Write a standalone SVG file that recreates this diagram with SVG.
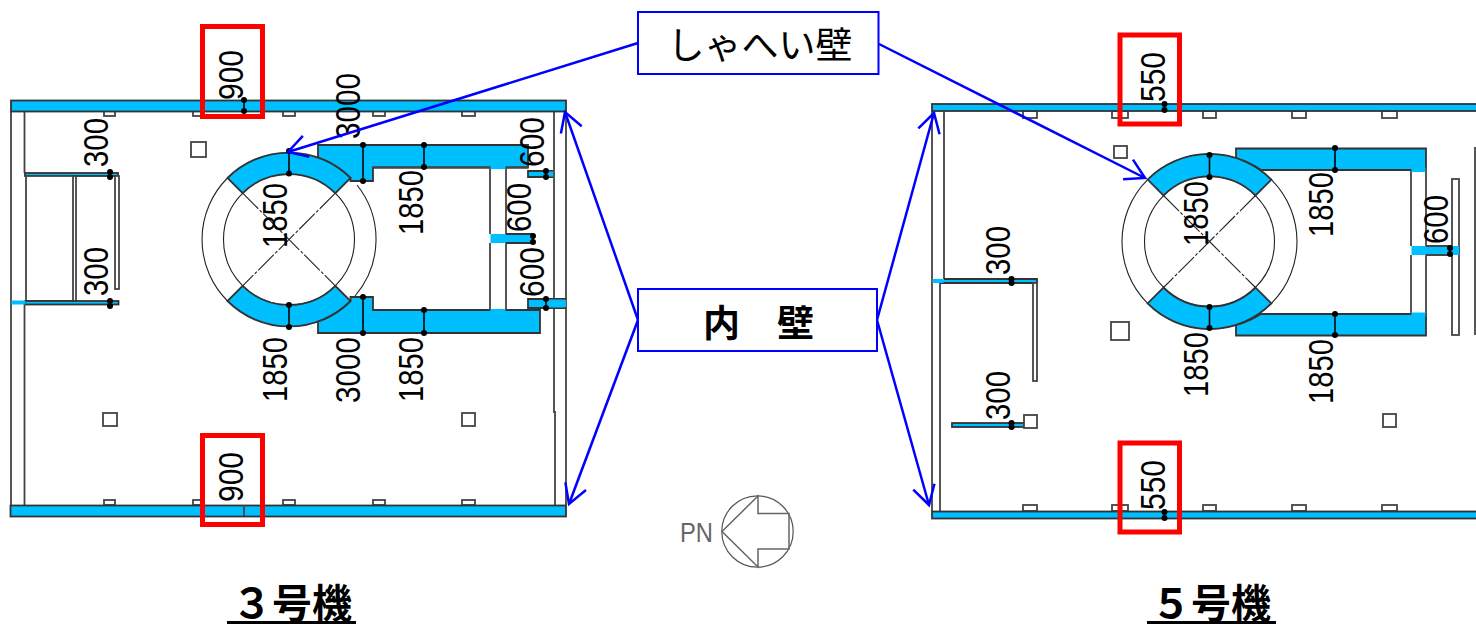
<svg xmlns="http://www.w3.org/2000/svg" width="1476" height="625" viewBox="0 0 1476 625">
<style>
.c{fill:#00bfff;stroke:#333;stroke-width:1.8}
.cn{fill:#00bfff;stroke:none}
.w{fill:#fff;stroke:#444;stroke-width:1.8}
.l{fill:none;stroke:#444;stroke-width:1.8}
.a{fill:none;stroke:#222;stroke-width:1.1}
.d{fill:none;stroke:#222;stroke-width:1.1;stroke-dasharray:22 2 3 2}
.t{stroke:#000;stroke-width:1.6;marker-start:url(#dot);marker-end:url(#dot)}
.n{font-family:"Liberation Sans",sans-serif;font-size:35px;fill:#000}
.r{fill:none;stroke:#f00;stroke-width:5}
.b{fill:#fff;stroke:#00f;stroke-width:2}
.j{font-family:"Noto Sans CJK JP",sans-serif;font-size:37px;fill:#000;text-anchor:middle}
.h{font-family:"Noto Sans CJK JP",sans-serif;font-size:40px;font-weight:700;fill:#000;text-anchor:middle}
.ar{fill:none;stroke:#00f;stroke-width:2.5;marker-end:url(#arr)}
</style>
<defs>
<marker id="dot" markerUnits="userSpaceOnUse" markerWidth="8" markerHeight="8" refX="4" refY="4"><circle cx="4" cy="4" r="3" fill="#000"/></marker>
<marker id="arr" markerUnits="userSpaceOnUse" markerWidth="30" markerHeight="30" refX="24" refY="15" orient="auto"><path d="M5,4 L24,15 L5,26" fill="none" stroke="#00f" stroke-width="2.5"/></marker>
</defs>

<g id="unit3-plan">
<path class="l" d="M11,111V505M24.500,111V173M24.500,304V505M566,111V505M554,111V412H555V505"/>
<rect class="w" x="104" y="111" width="11" height="5"/><rect class="w" x="193" y="111" width="11" height="5"/><rect class="w" x="283" y="111" width="12" height="5"/><rect class="w" x="373" y="111" width="12" height="5"/><rect class="w" x="462" y="111" width="13" height="5"/>
<rect class="w" x="104" y="500" width="11" height="5"/><rect class="w" x="193" y="500" width="11" height="5"/><rect class="w" x="283" y="500" width="12" height="5"/><rect class="w" x="373" y="500" width="12" height="5"/><rect class="w" x="462" y="500" width="13" height="5"/>
<rect class="c" x="11" y="100.500" width="555" height="11"/>
<rect class="c" x="10.500" y="505.500" width="555.500" height="11"/>
<rect class="w" x="191" y="142" width="15" height="15"/><rect class="w" x="103" y="413" width="14" height="13"/><rect class="w" x="462" y="413" width="13" height="13"/>
<rect class="c" x="25" y="173" width="93" height="3"/><rect class="w" x="26" y="176" width="47" height="125"/><path class="l" d="M76,176V301"/><rect class="w" x="115" y="176" width="4" height="113"/>
<rect class="c" x="25" y="301" width="93.500" height="3.500"/><rect class="cn" x="11.500" y="300.500" width="14" height="4"/>
<path class="c" d="M318,145H528V167.500H373V181H350.500V178A87 87 0 0 0 318,157.500Z"/>
<path class="c" d="M350.500,301V297H373V310H540V333H318V321.500A87 87 0 0 0 350.500,301Z"/>
<path class="l" d="M490,167.500V234M490,243V310M506,167.500V234M506,243V310M506,167.500H528M373,167.500H490"/>
<rect class="cn" x="490.500" y="165" width="15" height="4"/><rect class="cn" x="490.500" y="309" width="15" height="4"/>
<rect class="cn" x="490.500" y="234" width="16" height="9"/><path class="c" d="M506,234H533V243H506"/>
<path class="c" d="M553,171H528V177H553"/><rect class="cn" x="547" y="171.500" width="6" height="5"/>
<path class="c" d="M566,299H528V308H566"/><rect class="cn" x="548" y="299.500" width="17" height="8"/>
<circle class="a" cx="289" cy="239.500" r="65.500"/>
<path class="a" d="M357,185A87 87 0 0 1 355,296M227.500,178A87 87 0 0 0 227.500,301"/>
<path class="d" d="M242.700,193.200L335.300,285.800M335.300,193.200L242.700,285.800"/>
<path class="c" d="M227.500,178A87 87 0 0 1 350.500,178L335.300,193.200A65.500 65.500 0 0 0 242.700,193.200Z"/>
<path class="c" d="M227.500,301A87 87 0 0 0 350.500,301L335.300,285.800A65.500 65.500 0 0 1 242.700,285.800Z"/>
<path class="l" d="M244,505V516"/>
</g>

<g id="unit3-dimensions">
<line class="t" x1="244" y1="100" x2="244" y2="111"/><line class="t" x1="289" y1="151" x2="289" y2="173.500"/><line class="t" x1="289" y1="305" x2="289" y2="327"/><line class="t" x1="363" y1="145" x2="363" y2="181"/><line class="t" x1="363" y1="297" x2="363" y2="333"/><line class="t" x1="424" y1="145" x2="424" y2="167"/><line class="t" x1="424" y1="310" x2="424" y2="333"/><line class="t" x1="110" y1="172" x2="110" y2="177"/><line class="t" x1="110" y1="301" x2="110" y2="306"/><line class="t" x1="546" y1="171" x2="546" y2="177"/><line class="t" x1="546" y1="299" x2="546" y2="308"/><line class="t" x1="533" y1="236" x2="533" y2="242"/>
<text class="n" transform="translate(243,100) rotate(-90)" textLength="50" lengthAdjust="spacingAndGlyphs">900</text>
<text class="n" transform="translate(108,167) rotate(-90)" textLength="49" lengthAdjust="spacingAndGlyphs">300</text>
<text class="n" transform="translate(108,296) rotate(-90)" textLength="49" lengthAdjust="spacingAndGlyphs">300</text>
<text class="n" transform="translate(287,248) rotate(-90)" textLength="65" lengthAdjust="spacingAndGlyphs">1850</text>
<text class="n" transform="translate(360,139) rotate(-90)" textLength="66" lengthAdjust="spacingAndGlyphs">3000</text>
<text class="n" transform="translate(423,235) rotate(-90)" textLength="65" lengthAdjust="spacingAndGlyphs">1850</text>
<text class="n" transform="translate(544,167) rotate(-90)" textLength="50" lengthAdjust="spacingAndGlyphs">600</text>
<text class="n" transform="translate(531,232) rotate(-90)" textLength="49" lengthAdjust="spacingAndGlyphs">600</text>
<text class="n" transform="translate(544,297) rotate(-90)" textLength="50" lengthAdjust="spacingAndGlyphs">600</text>
<text class="n" transform="translate(287,402) rotate(-90)" textLength="65" lengthAdjust="spacingAndGlyphs">1850</text>
<text class="n" transform="translate(360,403) rotate(-90)" textLength="66" lengthAdjust="spacingAndGlyphs">3000</text>
<text class="n" transform="translate(423,402) rotate(-90)" textLength="65" lengthAdjust="spacingAndGlyphs">1850</text>
<text class="n" transform="translate(243,502) rotate(-90)" textLength="50" lengthAdjust="spacingAndGlyphs">900</text>
<rect class="r" x="202.500" y="26.500" width="60" height="90"/>
<rect class="r" x="202.500" y="435.500" width="60" height="89"/>
</g>

<g id="unit5-plan">
<path class="l" d="M932,111V511M944,111V279M940,283V511M1475,147V335"/>
<rect class="w" x="1023" y="111" width="14" height="7"/><rect class="w" x="1112" y="111" width="16" height="7"/><rect class="w" x="1203" y="111" width="13" height="7"/><rect class="w" x="1292" y="111" width="14" height="7"/><rect class="w" x="1382" y="111" width="15" height="7"/>
<rect class="w" x="1023" y="505" width="14" height="6"/><rect class="w" x="1112" y="505" width="16" height="6"/><rect class="w" x="1203" y="505" width="13" height="6"/><rect class="w" x="1292" y="505" width="14" height="6"/><rect class="w" x="1382" y="505" width="15" height="6"/>
<rect class="c" x="932" y="104" width="545" height="7"/>
<rect class="c" x="932" y="511.500" width="545" height="7"/>
<rect class="w" x="1114" y="146" width="13" height="12"/><rect class="w" x="1111" y="322" width="18" height="18"/><rect class="w" x="1383" y="414" width="13" height="13"/>
<path class="c" d="M944,279H1037V283H940"/><rect class="cn" x="932.500" y="279" width="11" height="4"/>
<rect class="w" x="1033" y="283" width="4" height="98"/>
<rect class="c" x="952" y="423" width="72" height="4"/><rect class="w" x="1024" y="415" width="13" height="13"/>
<rect class="w" x="1452" y="179" width="7" height="156"/>
<path class="c" d="M1236,148.500H1426V170H1261A87.500 87.500 0 0 0 1236,158Z"/>
<path class="c" d="M1261,314H1426V335.500H1236V325A87.500 87.500 0 0 0 1261,314Z"/>
<path class="l" d="M1411,170V246M1411,255V314M1426,170V246M1426,255V314"/>
<rect class="cn" x="1411.500" y="168" width="14" height="4"/><rect class="cn" x="1411.500" y="312.500" width="14" height="4"/>
<rect class="cn" x="1411.500" y="246" width="47.500" height="9"/><path class="l" d="M1426,246H1452M1426,255H1452"/>
<circle cx="1209.500" cy="241.500" r="87.500" fill="#fff" stroke="#222" stroke-width="1.100"/>
<circle class="a" cx="1209.500" cy="241.500" r="65"/>
<path class="d" d="M1163.500,195.500L1255.500,287.500M1255.500,195.500L1163.500,287.500"/>
<path class="c" d="M1147.600,179.600A87.500 87.500 0 0 1 1271.400,179.600L1255.500,195.500A65 65 0 0 0 1163.500,195.500Z"/>
<path class="c" d="M1147.600,303.400A87.500 87.500 0 0 0 1271.400,303.400L1255.500,287.500A65 65 0 0 1 1163.500,287.500Z"/>
</g>

<g id="unit5-dimensions">
<line class="t" x1="1164.500" y1="104" x2="1164.500" y2="110"/><line class="t" x1="1164.500" y1="512" x2="1164.500" y2="518"/><line class="t" x1="1209.500" y1="155" x2="1209.500" y2="177"/><line class="t" x1="1209.500" y1="307" x2="1209.500" y2="328"/><line class="t" x1="1335" y1="148" x2="1335" y2="170"/><line class="t" x1="1335" y1="314" x2="1335" y2="335"/><line class="t" x1="1450" y1="248" x2="1450" y2="254"/><line class="t" x1="1011.500" y1="279" x2="1011.500" y2="283"/><line class="t" x1="1011.500" y1="423" x2="1011.500" y2="427"/>
<text class="n" transform="translate(1165,102) rotate(-90)" textLength="50" lengthAdjust="spacingAndGlyphs">550</text>
<text class="n" transform="translate(1165,510) rotate(-90)" textLength="50" lengthAdjust="spacingAndGlyphs">550</text>
<text class="n" transform="translate(1208,246) rotate(-90)" textLength="65" lengthAdjust="spacingAndGlyphs">1850</text>
<text class="n" transform="translate(1333,237) rotate(-90)" textLength="65" lengthAdjust="spacingAndGlyphs">1850</text>
<text class="n" transform="translate(1448,244) rotate(-90)" textLength="49" lengthAdjust="spacingAndGlyphs">600</text>
<text class="n" transform="translate(1010,275) rotate(-90)" textLength="49" lengthAdjust="spacingAndGlyphs">300</text>
<text class="n" transform="translate(1010,420) rotate(-90)" textLength="49" lengthAdjust="spacingAndGlyphs">300</text>
<text class="n" transform="translate(1208,397) rotate(-90)" textLength="65" lengthAdjust="spacingAndGlyphs">1850</text>
<text class="n" transform="translate(1333,404) rotate(-90)" textLength="65" lengthAdjust="spacingAndGlyphs">1850</text>
<rect class="r" x="1120" y="35" width="59.500" height="89"/>
<rect class="r" x="1120" y="443" width="59.500" height="89"/>
</g>

<g id="connectors">
<line class="ar" x1="638" y1="43" x2="288" y2="152"/>
<line class="ar" x1="879" y1="44" x2="1145" y2="178"/>
<line class="ar" x1="638" y1="320" x2="565" y2="112"/>
<line class="ar" x1="638" y1="320" x2="569" y2="504"/>
<line class="ar" x1="877" y1="320" x2="934" y2="113"/>
<line class="ar" x1="877" y1="320" x2="929" y2="505"/>
</g>

<g id="label-shield-wall">
<rect class="b" x="638" y="12" width="240.500" height="62"/>
<text class="j" x="760" y="59">しゃへい壁</text>
</g>
<g id="label-inner-wall">
<rect class="b" x="638" y="289" width="239" height="62"/>
<text class="j" x="758.500" y="337" font-weight="700">内　壁</text>
</g>

<g id="north-mark">
<circle cx="757.500" cy="531.500" r="35.700" fill="none" stroke="#555" stroke-width="1.200"/>
<path d="M722,531.500L758,496V513.500H789V549H758V567Z" fill="none" stroke="#666" stroke-width="1.500"/>
<text x="680" y="542" font-family="'Liberation Sans',sans-serif" font-size="27" fill="#666" textLength="33" lengthAdjust="spacingAndGlyphs">PN</text>
</g>

<g id="title-unit3">
<text class="h" x="292" y="618">３号機</text>
<rect x="227" y="621" width="129" height="3" fill="#000"/>
</g>
<g id="title-unit5">
<text class="h" x="1211" y="618">５号機</text>
<rect x="1147" y="621" width="129" height="3" fill="#000"/>
</g>
</svg>
